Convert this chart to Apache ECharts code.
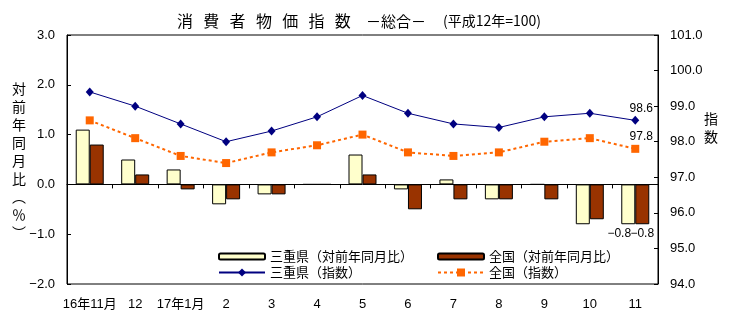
<!DOCTYPE html>
<html>
<head>
<meta charset="utf-8">
<script src="https://cdn.jsdelivr.net/npm/echarts@6/dist/echarts.min.js"></script>
<style>
html,body{margin:0;padding:0;background:#fff;}
#c{width:729px;height:328px;}
</style>
</head>
<body>
<div id="c"></div>
<script>
const categories = ['16年11月','12','17年1月','2','3','4','5','6','7','8','9','10','11'];
const mieYoY = [1.1,0.5,0.3,-0.4,-0.2,0.0,0.6,-0.1,0.1,-0.3,0.0,-0.8,-0.8];
const natYoY = [0.8,0.2,-0.1,-0.3,-0.2,0.0,0.2,-0.5,-0.3,-0.3,-0.3,-0.7,-0.8];
const mieIndex = [99.4,99.0,98.5,98.0,98.3,98.7,99.3,98.8,98.5,98.4,98.7,98.8,98.6];
const natIndex = [98.6,98.1,97.6,97.4,97.7,97.9,98.2,97.7,97.6,97.7,98.0,98.1,97.8];
const leftTicks = [-2, 3, 1];
const rightTicks = [94, 101, 1];

const NUM = '"Liberation Sans", "Noto Sans CJK JP", sans-serif';
const JP = '"Noto Sans CJK JP", sans-serif';
const fmt = v => Number(v).toFixed(1).replace('-', '\u2212');
const last = categories.length - 1;

function withLastLabel(arr, label) {
  return arr.map((v, i) => i === last ? {value: v, label: Object.assign({show: true}, label)} : v);
}

const titleChars = '消費者物価指数'.split('').map((c, i) => ({
  type: 'text', x: 185 + i * 26.3, y: 21,
  style: {text: c, fontSize: 16, fontFamily: JP, fill: '#000', align: 'center', verticalAlign: 'middle'}
}));

const chart = echarts.init(document.getElementById('c'), null, {renderer: 'canvas'});
chart.setOption({
  animation: false,
  backgroundColor: '#fff',
  grid: {left: 67, right: 71, top: 35, bottom: 44, show: true, borderColor: '#000', borderWidth: 1, containLabel: false},
  graphic: titleChars.concat([
    {type: 'text', x: 366, y: 21, style: {text: '－総合－', fontSize: 15, fontFamily: JP, fill: '#000', verticalAlign: 'middle'}},
    {type: 'text', x: 443, y: 21, style: {text: '(平成12年=100)', fontSize: 14, fontFamily: JP, fill: '#000', verticalAlign: 'middle'}},
    {type: 'text', x: 19, y: 161, style: {text: '対\n前\n年\n同\n月\n比\n︵\n％\n︶', fontSize: 14, lineHeight: 18, fontFamily: JP, fill: '#000', align: 'center', verticalAlign: 'middle'}},
    {type: 'text', x: 711, y: 128, style: {text: '指\n数', fontSize: 14, lineHeight: 18, fontFamily: JP, fill: '#000', align: 'center', verticalAlign: 'middle'}}
  ]),
  legend: [
    {data: ['三重県（対前年同月比）'], left: 213, top: 245, itemWidth: 46, itemHeight: 6, itemGap: 0, selectedMode: false, textStyle: {fontSize: 13, fontFamily: JP, color: '#000'}},
    {data: ['全国（対前年同月比）'], left: 432, top: 245, itemWidth: 46, itemHeight: 6, itemGap: 0, selectedMode: false, textStyle: {fontSize: 13, fontFamily: JP, color: '#000'}},
    {data: ['三重県（指数）'], left: 213, top: 261, itemWidth: 46, itemHeight: 10, itemGap: 0, selectedMode: false, textStyle: {fontSize: 13, fontFamily: JP, color: '#000'}},
    {data: ['全国（指数）'], left: 432, top: 261, itemWidth: 46, itemHeight: 10, itemGap: 0, selectedMode: false, textStyle: {fontSize: 13, fontFamily: JP, color: '#000'}}
  ],
  xAxis: [
    {type: 'category', data: categories, position: 'bottom',
     axisLine: {show: false}, axisTick: {show: false},
     axisLabel: {margin: 14, fontSize: 13, fontFamily: NUM, color: '#000', interval: 0}},
    {type: 'category', data: categories, position: 'bottom',
     axisLine: {show: true, onZero: true, onZeroAxisIndex: 0, lineStyle: {color: '#000', width: 1}},
     axisTick: {show: true, length: 4, interval: 0, lineStyle: {color: '#000'}},
     axisLabel: {show: false}, splitLine: {show: false}}
  ],
  yAxis: [
    {type: 'value', min: leftTicks[0], max: leftTicks[1], interval: leftTicks[2], position: 'left',
     axisLine: {show: true, lineStyle: {color: '#000'}},
     axisTick: {show: true, inside: true, length: 4, lineStyle: {color: '#000'}},
     splitLine: {show: false},
     axisLabel: {formatter: fmt, margin: 12, fontSize: 13, fontFamily: NUM, color: '#000'}},
    {type: 'value', min: rightTicks[0], max: rightTicks[1], interval: rightTicks[2], position: 'right',
     axisLine: {show: true, lineStyle: {color: '#000'}},
     axisTick: {show: true, inside: true, length: 4, lineStyle: {color: '#000'}},
     splitLine: {show: false},
     axisLabel: {formatter: fmt, margin: 12, fontSize: 13, fontFamily: NUM, color: '#000'}}
  ],
  series: [
    {name: '三重県（対前年同月比）', type: 'bar', xAxisIndex: 0, yAxisIndex: 0, barWidth: 14, barGap: '0%',
     itemStyle: {color: '#FFFFCC', borderColor: '#000', borderWidth: 1},
     label: {formatter: p => fmt(p.value), position: 'outside', distance: 3, offset: [-9, 0], fontSize: 12, fontFamily: NUM, color: '#000'},
     data: withLastLabel(mieYoY, {})},
    {name: '全国（対前年同月比）', type: 'bar', xAxisIndex: 0, yAxisIndex: 0, barWidth: 14, barGap: '0%',
     itemStyle: {color: '#993300', borderColor: '#000', borderWidth: 1},
     label: {formatter: p => fmt(p.value), position: 'outside', distance: 3, offset: [0, 0], fontSize: 12, fontFamily: NUM, color: '#000'},
     data: withLastLabel(natYoY, {})},
    {name: '三重県（指数）', type: 'line', xAxisIndex: 0, yAxisIndex: 1,
     symbol: 'diamond', symbolSize: [8, 9],
     itemStyle: {color: '#000080'}, lineStyle: {color: '#000080', width: 1},
     label: {formatter: p => Number(p.value).toFixed(1), position: 'top', distance: 1, offset: [6, 0], fontSize: 12, fontFamily: NUM, color: '#000'},
     data: withLastLabel(mieIndex, {}), z: 5},
    {name: '全国（指数）', type: 'line', xAxisIndex: 0, yAxisIndex: 1,
     symbol: 'rect', symbolSize: 8,
     itemStyle: {color: '#FF6600'}, lineStyle: {color: '#FF6600', width: 2, type: [3, 3]},
     label: {formatter: p => Number(p.value).toFixed(1), position: 'top', distance: 2, offset: [6, 0], fontSize: 12, fontFamily: NUM, color: '#000'},
     data: withLastLabel(natIndex, {}), z: 4}
  ]
});
</script>
</body>
</html>
